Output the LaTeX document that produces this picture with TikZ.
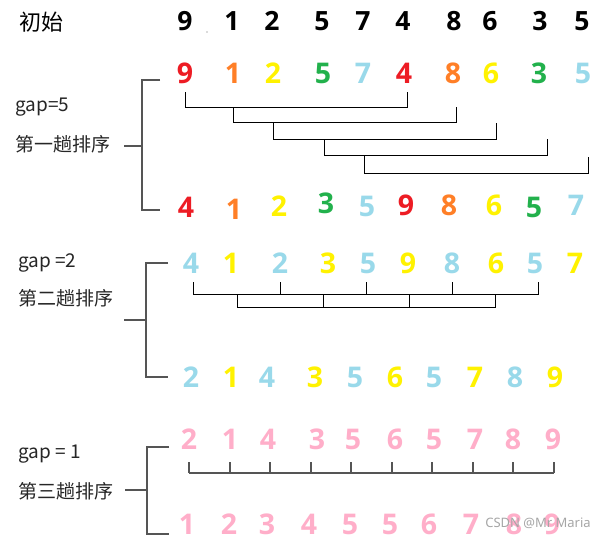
\documentclass[tikz,border=0pt]{standalone}
\usepackage{fontspec}
\setmainfont{Noto Sans}
\newfontfamily\cjk{Noto Sans CJK SC}
\newfontfamily\digfont{Open Sans}
\definecolor{cR}{HTML}{ED1C24}
\definecolor{cO}{HTML}{FF7F27}
\definecolor{cY}{HTML}{FFF200}
\definecolor{cG}{HTML}{22B14C}
\definecolor{cB}{HTML}{99D9EA}
\definecolor{cP}{HTML}{FFAEC9}
\definecolor{lineg}{HTML}{555555}
\tikzset{
  dig/.style={font=\digfont\bfseries\fontsize{28.5}{28.5}\selectfont, inner sep=0pt, anchor=center},
  blk/.style={font=\digfont\bfseries\fontsize{26.5}{26.5}\selectfont, inner sep=0pt, anchor=center, text=black},
  lab/.style={font=\cjk\fontsize{19}{19}\selectfont, inner sep=0pt, anchor=west, text=black!85},
  brk/.style={draw=black, line width=0.9pt},
  big/.style={draw=lineg, line width=1.3pt},
}
\begin{document}
\begin{tikzpicture}[x=1pt,y=-1pt]
\useasboundingbox (0,0) rectangle (604,538);
\fill[white] (0,0) rectangle (604,538);

% row 0
\node[font=\cjk\fontsize{22}{22}\selectfont, inner sep=0pt, anchor=center] (init) at (41,22) {初始};
\foreach \x/\d [count=\i] in {185/9,232/1,272/2,322/5,363/7,403/4,454/8,490/6,540/3,582/5}
  \node[blk] (r0-\i) at (\x,21) {\d};
\fill[black!60] (207,32) circle (0.7);

% row 1
\foreach \x/\d/\c [count=\i] in {185/9/cR,233/1/cO,273/2/cY,323/5/cG,363/7/cB,404/4/cR,453/8/cO,491/6/cY,539/3/cG,583/5/cB}
  \node[dig, text=\c] (r1-\i) at (\x,73) {\d};

% pass 1 brackets
\draw[brk] (185,92) -- (185,107) -- (407,107) -- (407,92);
\draw[brk] (233,107) -- (233,122) -- (456,122) -- (456,107);
\draw[brk] (273,122) -- (273,139) -- (496,139) -- (496,123);
\draw[brk] (324,139) -- (324,155) -- (547,155) -- (547,139);
\draw[brk] (364,156) -- (364,173) -- (588,173) -- (588,157);

% pass 1 labels & big bracket
\node[lab] (g1) at (15,107) {gap=5};
\node[lab] (p1) at (15,144) {第一趟排序};
\draw[big] (160,80) -- (142,80) -- (142,210) -- (160,210);
\draw[big] (124,146) -- (142,146);

% row 2
\foreach \x/\y/\d/\c [count=\i] in {186/207/4/cR,234/209/1/cO,279/206/2/cY,326/203/3/cG,367/206/5/cB,406/205/9/cR,449/205/8/cO,494/205/6/cY,534/207/5/cG,576/205/7/cB}
  \node[dig, text=\c] (r2-\i) at (\x,\y) {\d};

% pass 2 labels & big bracket
\node[lab] (g2) at (18,263) {gap =2};
\node[lab] (p2) at (18,298) {第二趟排序};
\draw[big] (168,263) -- (146,263) -- (146,377) -- (168,377);
\draw[big] (124,320) -- (146,320);

% row 3
\foreach \x/\d/\c [count=\i] in {191/4/cB,231/1/cY,280/2/cB,328/3/cY,368/5/cB,408/9/cY,452/8/cB,496/6/cY,535/5/cB,575/7/cY}
  \node[dig, text=\c] (r3-\i) at (\x,263) {\d};

% pass 2 brackets
\draw[brk] (193,282) -- (193,294) -- (538,294) -- (538,282);
\foreach \x in {280,366,452} \draw[brk] (\x,282) -- (\x,294);
\draw[brk] (237,294) -- (237,307) -- (495,307) -- (495,294);
\foreach \x in {323,409} \draw[brk] (\x,294) -- (\x,307);

% row 4
\foreach \x/\d/\c [count=\i] in {191/2/cB,231/1/cY,267/4/cB,315/3/cY,355/5/cB,395/6/cY,434/5/cB,475/7/cY,515/8/cB,555/9/cY}
  \node[dig, text=\c] (r4-\i) at (\x,377) {\d};

% pass 3 labels & big bracket
\node[lab] (g3) at (18,454) {gap = 1};
\node[lab] (p3) at (18,491) {第三趟排序};
\draw[big] (169,447) -- (147,447) -- (147,534) -- (169,534);
\draw[big] (125,490) -- (147,490);

% row 5
\foreach \x/\d [count=\i] in {189/2,230/1,268/4,317/3,353/5,395/6,434/5,475/7,513/8,553/9}
  \node[dig, text=cP] (r5-\i) at (\x,439) {\d};

% pass 3 ruler
\draw[big, line width=1.1pt] (189,473) -- (554,473);
\foreach \x in {189,230,270,311,351,392,432,473,513,554} \draw[big, line width=1.1pt] (\x,462) -- (\x,473);

% row 6
\foreach \x/\d [count=\i] in {187/1,229/2,267/3,309/4,350/5,390/5,429/6,471/7,514/8,552/9}
  \node[dig, text=cP] (r6-\i) at (\x,524) {\d};

% watermark
\node[font=\fontsize{13}{13}\selectfont, text=black!35, inner sep=0pt, anchor=center] (wm) at (538,523) {CSDN @Mr Maria};
\end{tikzpicture}
\end{document}
